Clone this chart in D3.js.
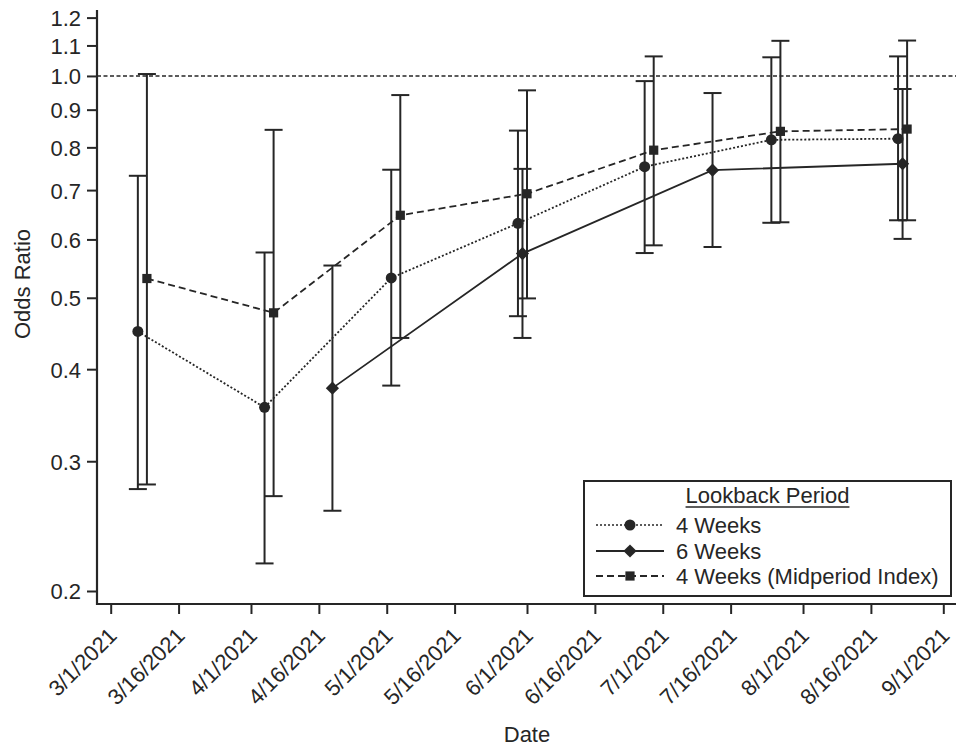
<!DOCTYPE html>
<html>
<head>
<meta charset="utf-8">
<script src="https://cdn.jsdelivr.net/npm/d3@7"></script>
<style>
  html, body { margin: 0; padding: 0; background: #fff; }
  svg { display: block; }
  text { font-family: "Liberation Sans", Arial, Helvetica, sans-serif; fill: #262626; }
</style>
</head>
<body>
<svg id="chart" width="956" height="752"></svg>
<script>
// ---- Data ----
const xTickLabels = ["3/1/2021","3/16/2021","4/1/2021","4/16/2021","5/1/2021","5/16/2021","6/1/2021","6/16/2021","7/1/2021","7/16/2021","8/1/2021","8/16/2021","9/1/2021"];
const yTickValues = [0.2,0.3,0.4,0.5,0.6,0.7,0.8,0.9,1.0,1.1,1.2];

const seriesNames = ["4 Weeks","6 Weeks","4 Weeks (Midperiod Index)"];

const dates4w = ["2021-03-07","2021-04-04","2021-05-02","2021-05-30","2021-06-27","2021-07-25","2021-08-22"];
const or4w    = [0.450,0.355,0.532,0.631,0.753,0.819,0.822];
const lo4w    = [0.275,0.218,0.380,0.472,0.575,0.632,0.637];
const hi4w    = [0.732,0.576,0.746,0.843,0.984,1.060,1.063];

const dates6w = ["2021-04-19","2021-05-31","2021-07-12","2021-08-23"];
const or6w    = [0.377,0.574,0.745,0.760];
const lo6w    = [0.257,0.441,0.586,0.601];
const hi6w    = [0.553,0.748,0.948,0.960];

const datesMid = ["2021-03-09","2021-04-06","2021-05-04","2021-06-01","2021-06-29","2021-07-27","2021-08-24"];
const orMid    = [0.531,0.477,0.647,0.692,0.793,0.841,0.847];
const loMid    = [0.279,0.269,0.441,0.499,0.589,0.633,0.637];
const hiMid    = [1.006,0.845,0.942,0.956,1.063,1.116,1.117];

const refValue = 1.0;

// ---- Setup ----
const ink = "#262626";
const parse = d3.utcParse("%Y-%m-%d");
const parseTick = d3.utcParse("%m/%d/%Y");
const svg = d3.select("#chart");

const x = d3.scaleUtc()
  .domain([parseTick("3/1/2021"), parseTick("9/1/2021")])
  .range([110.7, 943.3]);
const y = d3.scaleLog()
  .domain([0.2, 1.2])
  .range([591, 17.6]);

const axisX = 97, axisY = 604;
const fs = 22;

function build(dates, ors, los, his) {
  return dates.map((d, i) => ({ date: parse(d), or: ors[i], lo: los[i], hi: his[i] }));
}
const series = [
  { name: seriesNames[0], data: build(dates4w, or4w, lo4w, hi4w), dash: "2,2", width: 1.8, marker: "circle" },
  { name: seriesNames[1], data: build(dates6w, or6w, lo6w, hi6w), dash: null, width: 1.8, marker: "diamond" },
  { name: seriesNames[2], data: build(datesMid, orMid, loMid, hiMid), dash: "7,4", width: 1.8, marker: "square" }
];

// ---- Axes ----
const yAxis = svg.append("g")
  .attr("transform", `translate(${axisX},0)`)
  .call(d3.axisLeft(y).tickValues(yTickValues).tickFormat(d3.format(".1f")).tickSize(10).tickSizeOuter(0));
yAxis.select(".domain").remove();
yAxis.selectAll(".tick line").attr("stroke", ink).attr("stroke-width", 2);
yAxis.selectAll(".tick text")
  .attr("x", -16).attr("dy", "0.36em")
  .style("font-size", fs + "px").attr("fill", ink);

const xTickDates = xTickLabels.map(parseTick);
const xAxis = svg.append("g")
  .attr("transform", `translate(0,${axisY})`)
  .call(d3.axisBottom(x).tickValues(xTickDates)
    .tickFormat((d, i) => xTickLabels[i]).tickSize(10).tickSizeOuter(0));
xAxis.select(".domain").remove();
xAxis.selectAll(".tick line").attr("stroke", ink).attr("stroke-width", 2);
xAxis.selectAll(".tick text")
  .attr("x", 0).attr("y", 0).attr("dy", 0)
  .attr("text-anchor", "end")
  .attr("transform", "translate(7,33) rotate(-45)")
  .style("font-size", fs + "px").attr("fill", ink);

// axis lines
svg.append("line").attr("x1", axisX).attr("x2", axisX).attr("y1", 10).attr("y2", axisY + 1)
  .attr("stroke", ink).attr("stroke-width", 2.2);
svg.append("line").attr("x1", axisX - 1).attr("x2", 956).attr("y1", axisY).attr("y2", axisY)
  .attr("stroke", ink).attr("stroke-width", 2.2);

// axis titles
svg.append("text")
  .attr("transform", `translate(30,284) rotate(-90)`)
  .attr("text-anchor", "middle")
  .style("font-size", fs + "px")
  .text("Odds Ratio");
svg.append("text")
  .attr("x", 527).attr("y", 742)
  .attr("text-anchor", "middle")
  .style("font-size", fs + "px")
  .text("Date");

// reference line
svg.append("line")
  .attr("x1", axisX).attr("x2", 956)
  .attr("y1", y(refValue)).attr("y2", y(refValue))
  .attr("stroke", ink).attr("stroke-width", 1.6).attr("stroke-dasharray", "4,2.5");

// ---- Error bars ----
const capHalf = 9;
series.forEach(s => {
  const g = svg.append("g");
  s.data.forEach(d => {
    const cx = x(d.date);
    g.append("line").attr("x1", cx).attr("x2", cx).attr("y1", y(d.hi)).attr("y2", y(d.lo))
      .attr("stroke", ink).attr("stroke-width", 2);
    [d.hi, d.lo].forEach(v => {
      g.append("line").attr("x1", cx - capHalf).attr("x2", cx + capHalf).attr("y1", y(v)).attr("y2", y(v))
        .attr("stroke", ink).attr("stroke-width", 2);
    });
  });
});

// ---- Lines ----
const line = d3.line().x(d => x(d.date)).y(d => y(d.or));
series.forEach(s => {
  svg.append("path")
    .datum(s.data)
    .attr("d", line)
    .attr("fill", "none")
    .attr("stroke", ink)
    .attr("stroke-width", s.width)
    .attr("stroke-dasharray", s.dash);
});

// ---- Markers ----
function drawMarker(g, type, cx, cy) {
  if (type === "circle") {
    g.append("circle").attr("cx", cx).attr("cy", cy).attr("r", 5.5).attr("fill", ink);
  } else if (type === "square") {
    g.append("rect").attr("x", cx - 4.6).attr("y", cy - 4.6).attr("width", 9.2).attr("height", 9.2).attr("fill", ink);
  } else {
    const r = 6.6;
    g.append("path").attr("d", `M${cx},${cy - r}L${cx + r},${cy}L${cx},${cy + r}L${cx - r},${cy}Z`).attr("fill", ink);
  }
}
series.forEach(s => {
  const g = svg.append("g");
  s.data.forEach(d => drawMarker(g, s.marker, x(d.date), y(d.or)));
});

// ---- Legend ----
const lg = svg.append("g");
lg.append("rect").attr("x", 584).attr("y", 481).attr("width", 367).attr("height", 115)
  .attr("fill", "#fff").attr("stroke", ink).attr("stroke-width", 2);
const title = lg.append("text").attr("x", 767.5).attr("y", 503).attr("text-anchor", "middle")
  .style("font-size", fs + "px").text("Lookback Period");
const tw = title.node().getComputedTextLength();
lg.append("line").attr("x1", 767.5 - tw / 2).attr("x2", 767.5 + tw / 2).attr("y1", 507).attr("y2", 507)
  .attr("stroke", ink).attr("stroke-width", 1.5);
const rowY = [525, 551, 576];
series.forEach((s, i) => {
  lg.append("line").attr("x1", 596).attr("x2", 664).attr("y1", rowY[i]).attr("y2", rowY[i])
    .attr("stroke", ink).attr("stroke-width", s.marker === "circle" ? 1.5 : 1.8)
    .attr("stroke-dasharray", s.dash);
  drawMarker(lg, s.marker, 630, rowY[i]);
  lg.append("text").attr("x", 676).attr("y", rowY[i] + 7.5)
    .style("font-size", fs + "px").text(s.name);
});
</script>
</body>
</html>
